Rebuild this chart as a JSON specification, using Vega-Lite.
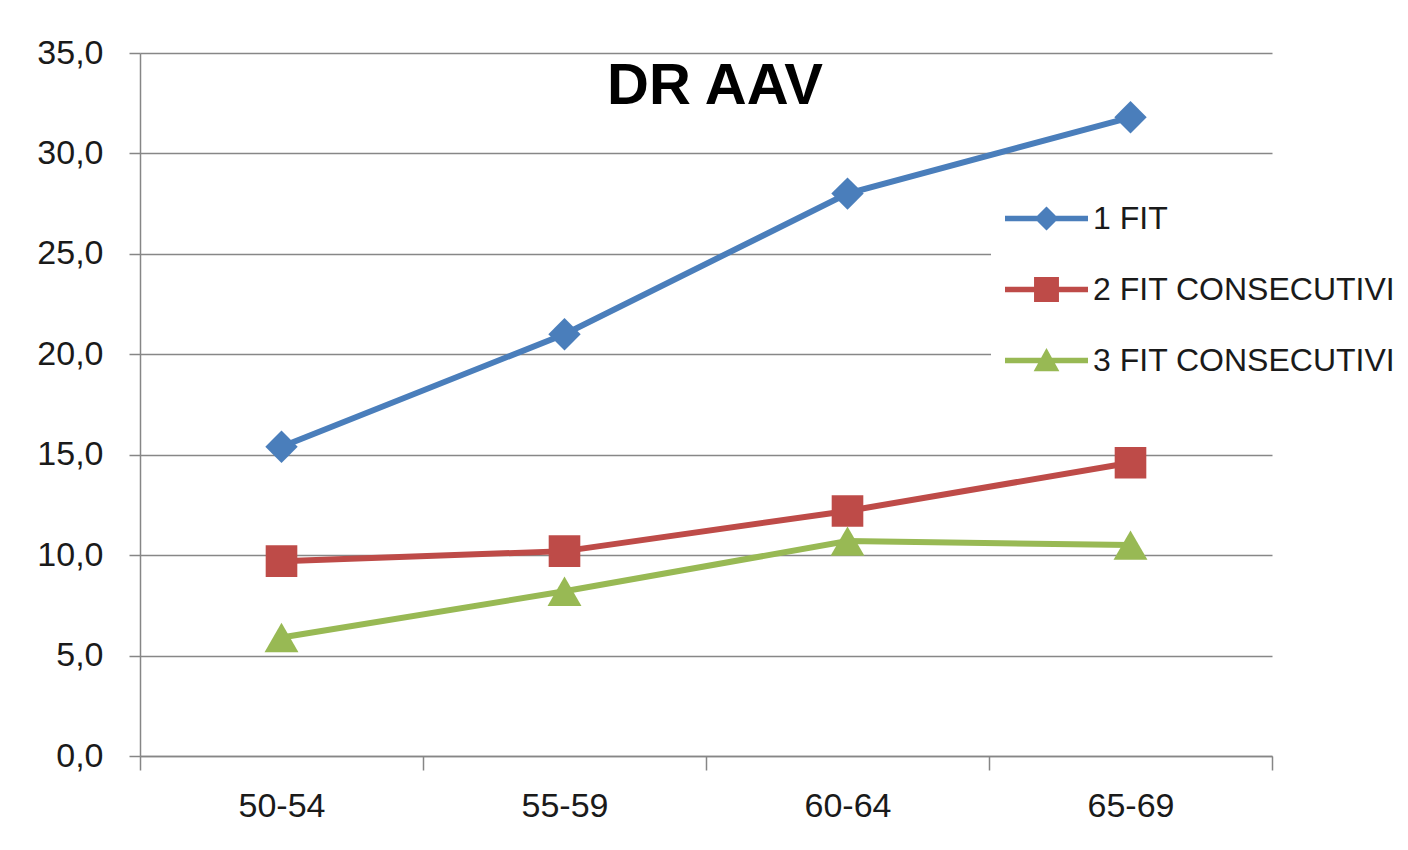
{
  "$schema": "https://vega.github.io/schema/vega-lite/v6.json",
  "width": 1132,
  "height": 703,
  "autosize": {"type": "none"},
  "padding": {"left": 140, "top": 53, "right": 136, "bottom": 94},
  "background": "white",
  "config": {
    "view": {"stroke": null},
    "font": "Liberation Sans"
  },
  "title": {
    "text": "DR AAV",
    "font": "Liberation Sans",
    "fontSize": 58,
    "fontWeight": "bold",
    "color": "#000000",
    "anchor": "middle",
    "baseline": "alphabetic",
    "offset": 0,
    "dy": 126,
    "dx": 9
  },
  "data": {
    "values": [
      {"fascia": "50-54", "serie": "1 FIT", "valore": 15.4},
      {"fascia": "55-59", "serie": "1 FIT", "valore": 21.0},
      {"fascia": "60-64", "serie": "1 FIT", "valore": 28.0},
      {"fascia": "65-69", "serie": "1 FIT", "valore": 31.8},
      {"fascia": "50-54", "serie": "2 FIT CONSECUTIVI", "valore": 9.7},
      {"fascia": "55-59", "serie": "2 FIT CONSECUTIVI", "valore": 10.2},
      {"fascia": "60-64", "serie": "2 FIT CONSECUTIVI", "valore": 12.2},
      {"fascia": "65-69", "serie": "2 FIT CONSECUTIVI", "valore": 14.6},
      {"fascia": "50-54", "serie": "3 FIT CONSECUTIVI", "valore": 5.9},
      {"fascia": "55-59", "serie": "3 FIT CONSECUTIVI", "valore": 8.2},
      {"fascia": "60-64", "serie": "3 FIT CONSECUTIVI", "valore": 10.7},
      {"fascia": "65-69", "serie": "3 FIT CONSECUTIVI", "valore": 10.5}
    ]
  },
  "encoding": {
    "x": {
      "field": "fascia",
      "type": "nominal",
      "sort": null,
      "scale": {"type": "band", "paddingInner": 0, "paddingOuter": 0},
      "axis": {
        "title": null,
        "labelAngle": 0,
        "tickBand": "extent",
        "grid": false,
        "domainColor": "#868686",
        "domainWidth": 1.5,
        "tickColor": "#868686",
        "tickWidth": 1.5,
        "tickSize": 14,
        "labelFont": "Liberation Sans",
        "labelFontSize": 34,
        "labelColor": "#1a1a1a",
        "labelPadding": 19
      }
    },
    "y": {
      "field": "valore",
      "type": "quantitative",
      "scale": {"domain": [0, 35], "nice": false, "zero": true},
      "axis": {
        "title": null,
        "values": [0, 5, 10, 15, 20, 25, 30, 35],
        "labelExpr": "replace(format(datum.value, '.1f'), '.', ',')",
        "grid": true,
        "gridColor": "#878787",
        "gridWidth": 1.5,
        "domainColor": "#868686",
        "domainWidth": 1.5,
        "tickColor": "#868686",
        "tickWidth": 1.5,
        "tickSize": 11,
        "labelFont": "Liberation Sans",
        "labelFontSize": 34,
        "labelColor": "#1a1a1a",
        "labelPadding": 26
      }
    },
    "color": {
      "field": "serie",
      "type": "nominal",
      "scale": {
        "domain": ["1 FIT", "2 FIT CONSECUTIVI", "3 FIT CONSECUTIVI"],
        "range": ["#4A7EBB", "#BE4B48", "#98B954"]
      },
      "legend": {
        "title": null,
        "orient": "none",
        "legendX": 851,
        "legendY": 110,
        "padding": 14,
        "fillColor": "white",
        "strokeColor": null,
        "symbolSize": 6889,
        "symbolStrokeWidth": 0,
        "symbolOpacity": 1,
        "labelFont": "Liberation Sans",
        "labelFontSize": 32,
        "labelColor": "#1a1a1a",
        "labelOffset": 5,
        "labelLimit": 400,
        "rowPadding": 13,
        "encode": {
          "symbols": {
            "update": {
              "shape": {
                "signal": "datum.value === '1 FIT' ? 'M-1,-0.065H1V0.065H-1Z M0,-0.29L0.29,0L0,0.29L-0.29,0Z' : datum.value === '2 FIT CONSECUTIVI' ? 'M-1,-0.065H1V0.065H-1Z M-0.3,-0.3H0.3V0.3H-0.3Z' : 'M-1,-0.065H1V0.065H-1Z M0,-0.3L0.31,0.26H-0.31Z'"
              },
              "strokeWidth": {"value": 0},
              "opacity": {"value": 1}
            }
          }
        }
      }
    }
  },
  "layer": [
    {
      "mark": {"type": "line", "strokeWidth": 6}
    },
    {
      "transform": [{"filter": "datum.serie === '1 FIT'"}],
      "mark": {"type": "point", "filled": true, "opacity": 1, "size": 1050, "shape": "diamond"}
    },
    {
      "transform": [{"filter": "datum.serie === '2 FIT CONSECUTIVI'"}],
      "mark": {"type": "point", "filled": true, "opacity": 1, "size": 1000, "shape": "square"}
    },
    {
      "transform": [{"filter": "datum.serie === '3 FIT CONSECUTIVI'"}],
      "mark": {"type": "point", "filled": true, "opacity": 1, "size": 1150, "shape": "triangle-up"}
    }
  ]
}
